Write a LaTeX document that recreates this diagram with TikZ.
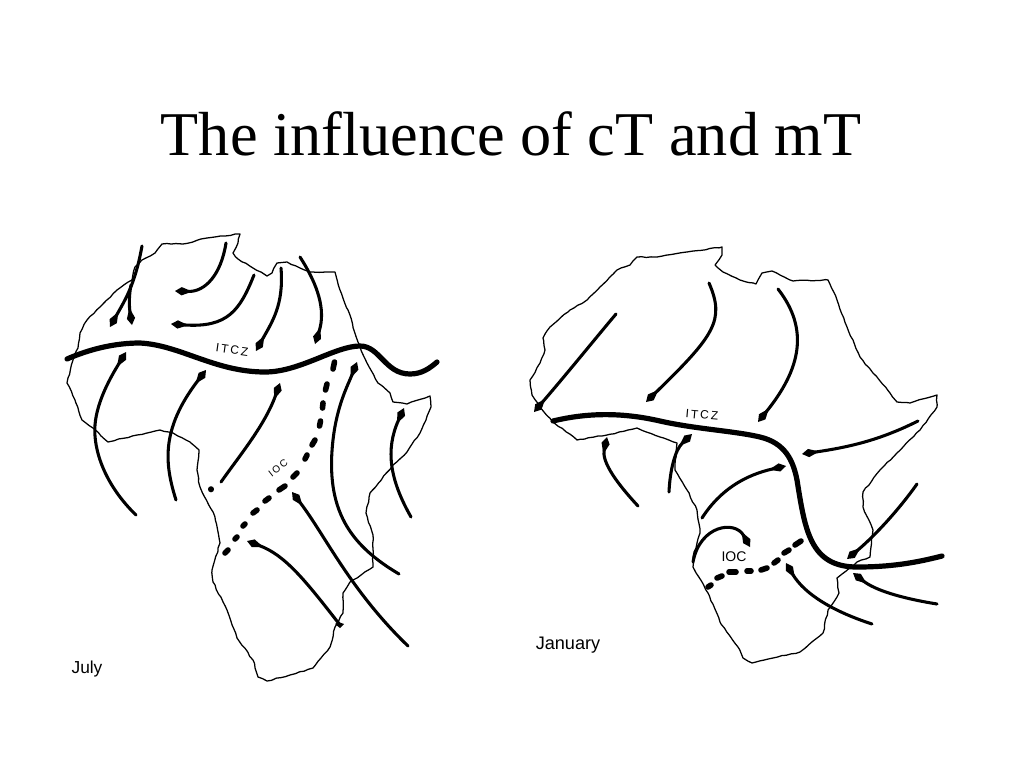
\documentclass[tikz,border=0pt]{standalone}
\usepackage{fontspec}
\setmainfont{Liberation Serif}
\newfontfamily\labelfont{Liberation Sans}
\usetikzlibrary{arrows.meta,decorations.pathmorphing}
\pgfmathsetseed{7}
\tikzset{
  coast/.style={draw=black,line width=0.95pt,line join=round,decorate,decoration={random steps,segment length=3.5pt,amplitude=0.4pt}},
  wind/.style={draw=black,line width=2.3pt,line cap=round,-{Kite[length=13pt,width=6.2pt,inset=8pt]}},
  itcz/.style={draw=black,line width=3.9pt,line cap=round},
  iocdash/.style={draw=black,line width=4.2pt,line cap=round},
  hand/.style={font=\labelfont\fontsize{9}{10}\selectfont,inner sep=0pt},
  caption/.style={font=\labelfont\fontsize{13}{15}\selectfont,inner sep=0pt}
}
\begin{document}
\begin{tikzpicture}[x=0.75pt,y=-0.75pt]
\useasboundingbox (0,0) rectangle (1024,768);
\fill[white] (0,0) rectangle (1024,768);
\node[inner sep=0pt,font=\fontsize{46.7}{56}\selectfont] (title) at (511,134) {The influence of cT and mT};

% ---- July ----
\draw[coast] (78,348)--(80,333)--(87,320)--(100,307)--(117,290)--(132,280)--(135,267)--(142,260)--(155,253)--(162,244)--(183,244)--(207,238)--(240,234)--(238,243)--(233,253)--(238,259)--(253,268)--(267,276)--(272,273)--(277,263)--(287,262)--(300,268)--(310,272)--(335,272)--(340,290)--(348,310)--(358,342)--(367,363)--(378,383)--(390,393)--(393,402)--(407,404)--(430,396)--(431,407)--(420,433)--(407,452)--(393,465)--(370,493)--(366,513)--(373,535)--(373,567)--(350,582)--(343,593)--(343,613)--(335,627)--(330,647)--(313,668)--(290,675)--(267,681)--(258,677)--(253,660)--(237,638)--(227,610)--(213,582)--(212,570)--(220,543)--(215,517)--(200,487)--(197,470)--(199,450)--(190,442)--(173,433)--(160,430)--(137,435)--(108,442)--(93,428)--(82,420)--(75,400)--(67,383)--(73,360)--(78,348);
\draw[itcz] (67,359) .. controls (90,349) and (115,343) .. (140,343) .. controls (180,345) and (215,372) .. (265,372) .. controls (300,372) and (335,346) .. (360,346) .. controls (380,346) and (385,374) .. (410,374) .. controls (422,374) and (430,368) .. (437,362);
\draw[wind] (142,246) .. controls (135,285) and (125,300) .. (110,327);
\draw[wind] (131,285) .. controls (128,300) and (130,312) .. (132,325);
\draw[wind] (226,243) .. controls (221,275) and (205,292) .. (175,291);
\draw[wind] (254,275) .. controls (240,310) and (228,328) .. (171,324);
\draw[wind] (281,268) .. controls (284,305) and (272,322) .. (256,351);
\draw[wind] (300,257) .. controls (318,285) and (326,310) .. (315,344);
\draw[wind] (136,515) .. controls (105,485) and (93,450) .. (95,425) .. controls (97,400) and (112,375) .. (126,352);
\draw[wind] (176,500) .. controls (165,465) and (160,430) .. (206,370);
\draw[wind] (221,482) .. controls (240,455) and (265,425) .. (280,383);
\draw[wind] (399,574) .. controls (350,545) and (325,510) .. (333,440) .. controls (337,405) and (348,385) .. (357,362);
\draw[wind] (411,517) .. controls (390,480) and (385,450) .. (404,408);
\draw[wind] (408,646) .. controls (350,590) and (325,535) .. (292,492);
\draw[wind] (340,625) .. controls (305,580) and (285,555) .. (247,541);
\fill (338.5,622) -- (344,624) -- (340,628) -- (335,624) -- cycle;
\foreach \xa/\ya/\xb/\yb in {334.5/362/333/369, 327/384/325.5/390, 323/403/322.5/408, 320.5/421/319.5/426, 315/440/312/445, 307/455/305/459, 297/473/293/477, 285/486/279/490, 269/498/265/501, 257/510/253/513, 245/524/243/526, 237/537/235/539, 228/550/225/553, 211/489/211/489.5}
  \draw[iocdash] (\xa,\ya) -- (\xb,\yb);
\node[hand,rotate=-8] (itczj) at (232,350) {I\,T\,C\,Z};
\node[hand,rotate=38,font=\labelfont\fontsize{7.5}{10}\selectfont] (iocj) at (278,468) {I\,O\,C};
\node[caption] (july) at (87,669) {July};

% ---- January ----
\draw[coast] (540,407)--(532,395)--(530,380)--(540,363)--(545,350)--(543,338)--(550,327)--(570,310)--(587,300)--(600,287)--(617,270)--(630,265)--(637,257)--(657,257)--(687,252)--(722,247)--(722,255)--(715,265)--(723,272)--(740,280)--(756,284)--(762,273)--(772,271)--(793,281)--(828,280)--(837,300)--(847,327)--(860,357)--(873,373)--(890,393)--(897,402)--(910,403)--(937,395)--(937,407)--(920,430)--(897,453)--(880,470)--(863,492)--(863,507)--(873,530)--(870,557)--(857,562)--(837,578)--(839,593)--(828,610)--(823,633)--(800,652)--(773,658)--(752,663)--(743,658)--(738,647)--(720,622)--(708,593)--(693,567)--(693,557)--(700,533)--(697,510)--(687,490)--(675,470)--(677,443)--(660,437)--(637,428)--(607,435)--(577,440)--(553,422)--(540,407);
\draw[itcz] (553,421) .. controls (590,412) and (625,413) .. (660,421) .. controls (695,429) and (735,431) .. (760,437) .. controls (785,443) and (793,460) .. (797,480) .. controls (805,530) and (810,567) .. (857,567) .. controls (890,567) and (915,563) .. (942,556);
\draw[wind] (616,314) .. controls (590,345) and (570,370) .. (534,412);
\draw[wind] (709,283) .. controls (725,320) and (715,335) .. (646,402);
\draw[wind] (778,289) .. controls (810,330) and (800,370) .. (758,422);
\draw[wind] (918,421) .. controls (880,440) and (850,447) .. (802,454);
\draw[wind] (669,492) .. controls (670,470) and (675,450) .. (692,434);
\draw[wind] (638,506) .. controls (612,478) and (602,460) .. (607,437);
\draw[wind] (702,518) .. controls (720,490) and (745,475) .. (786,466);
\draw[wind] (693,562) .. controls (700,525) and (735,520) .. (750,547);
\draw[wind] (917,484) .. controls (895,515) and (870,540) .. (847,559);
\draw[wind] (937,604) .. controls (900,598) and (875,590) .. (853,573);
\draw[wind] (872,624) .. controls (835,612) and (805,595) .. (786,563);
\foreach \xa/\ya/\xb/\yb in {801/541/795/545, 789/550/784/553, 778/560/774/563, 767/568/761/570, 751/571/747/571, 736/572/729/572, 722/576/717/578, 711/585/708/587}
  \draw[iocdash] (\xa,\ya) -- (\xb,\yb);
\node[hand,rotate=-5] (itczd) at (702,415) {I\,T\,C\,Z};
\node[hand,font=\labelfont\fontsize{10.5}{12}\selectfont] (iocd) at (734,557) {IOC};
\node[caption,font=\labelfont\fontsize{13.6}{15}\selectfont] (january) at (568,645) {January};
\end{tikzpicture}
\end{document}
